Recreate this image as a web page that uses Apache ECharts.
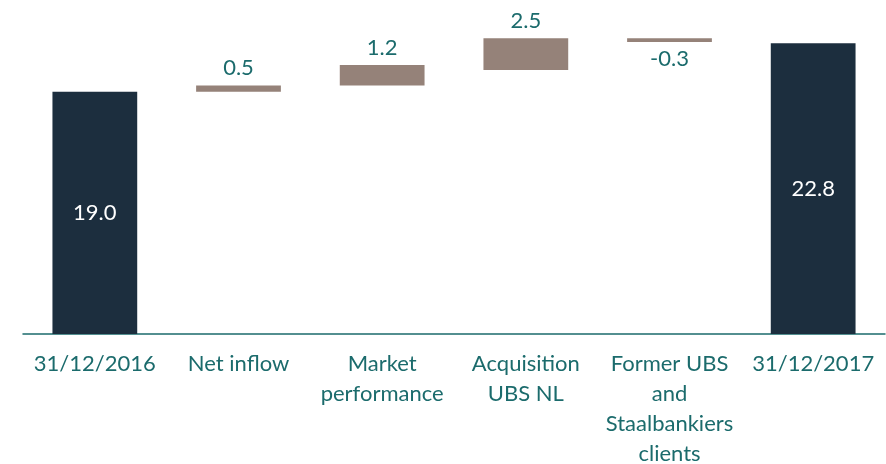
<!DOCTYPE html>
<html>
<head>
<meta charset="utf-8">
<script src="https://cdn.jsdelivr.net/npm/echarts@6/dist/echarts.min.js"></script>
<style>
  html, body { margin: 0; padding: 0; background: #fff; }
  #chart { width: 886px; height: 464px; }
</style>
</head>
<body>
<div id="chart"></div>
<script>
// categories and bar extents (bottom / top of each floating bar)
const categories = [
  "31/12/2016",
  "Net inflow",
  "Market\nperformance",
  "Acquisition\nUBS NL",
  "Former UBS\nand\nStaalbankiers\nclients",
  "31/12/2017",
];
const barLow = [0, 19.0, 19.5, 20.7, 22.9, 0];
const barHigh = [19.0, 19.5, 21.1, 23.2, 23.2, 22.8];
const valueLabels = ["19.0", "0.5", "1.2", "2.5", "-0.3", "22.8"];
const isTotal = [true, false, false, false, false, true];

const TEAL = "#1b6b6c";
const NAVY = "#1c2e3e";
const TAUPE = "#958279";
const FONT = "Lato";

const chart = echarts.init(document.getElementById("chart"), null, { renderer: "canvas" });

const deltaData = barHigh.map((h, i) => {
    let label;
    if (isTotal[i]) {
        label = { position: "inside", color: "#ffffff" };
    } else if (i === 4) {
        label = { position: "bottom", distance: 6 };
    } else {
        label = { position: "top", distance: 6 };
    }
    return {
        value: +(h - barLow[i]).toFixed(2),
        itemStyle: { color: isTotal[i] ? NAVY : TAUPE },
        label: label,
    };
});

chart.setOption({
    animation: false,
    grid: { left: 23, right: 1, top: 2.5, bottom: 130, containLabel: false, outerBoundsMode: "none" },
    xAxis: {
        type: "category",
        data: categories,
        axisLine: { lineStyle: { color: TEAL, width: 1.5 } },
        axisTick: { show: false },
        axisLabel: {
            color: TEAL,
            fontFamily: FONT,
            fontSize: 22,
            lineHeight: 30,
            margin: 15,
            interval: 0,
        },
    },
    yAxis: {
        type: "value",
        min: 0,
        max: 26,
        show: false,
        splitLine: { show: false },
    },
    series: [
        {
            name: "base",
            type: "bar",
            stack: "wf",
            data: barLow,
            itemStyle: { color: "transparent" },
            silent: true,
            barCategoryGap: "41%",
        },
        {
            name: "delta",
            type: "bar",
            stack: "wf",
            data: deltaData,
            barCategoryGap: "41%",
            label: {
                show: true,
                color: TEAL,
                fontFamily: FONT,
                fontSize: 22,
                formatter: (p) => valueLabels[p.dataIndex],
            },
        },
    ],
});
</script>
</body>
</html>
